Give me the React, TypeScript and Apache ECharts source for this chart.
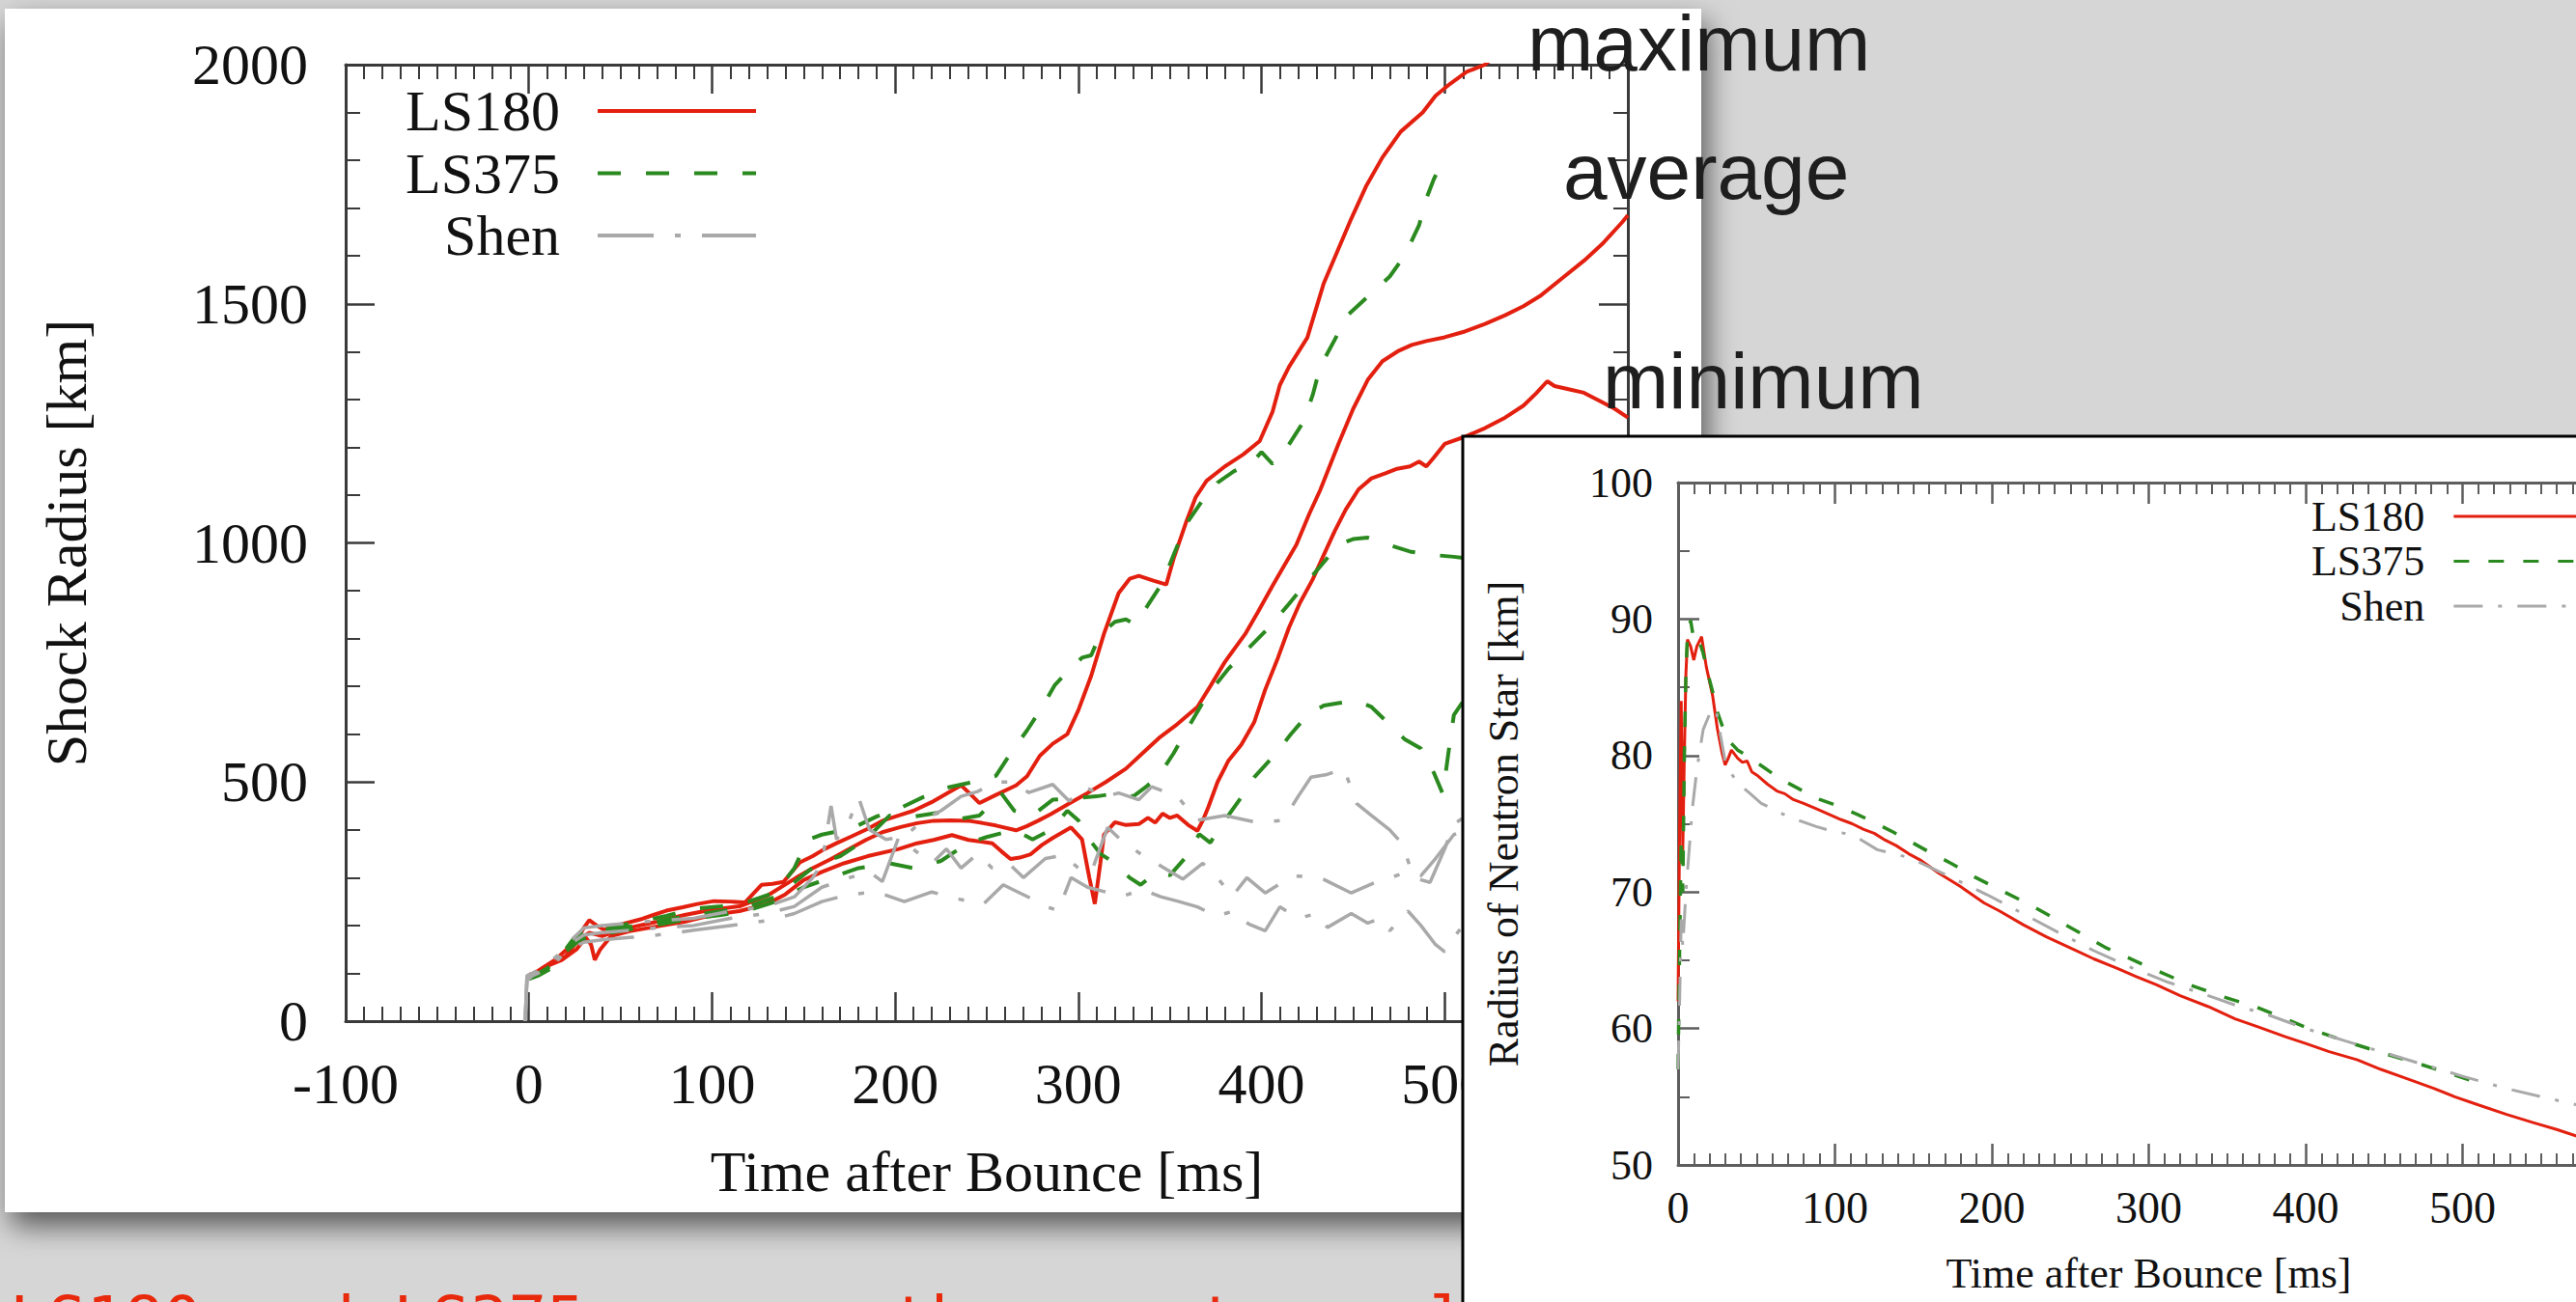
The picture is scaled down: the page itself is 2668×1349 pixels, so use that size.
import React, { useEffect, useRef } from 'react';
import * as echarts from 'echarts';

const W = 2668;
const H = 1349;
const SERIF = 'Liberation Serif';
const SANS = 'Liberation Sans';
const RED = '#e3200f';
const GREEN = '#2b8a1f';
const GRAY = '#a9a9a9';
const AX = '#3a3a3a';
const AX2 = '#5e5e5e';

const modelNames = ['LS180', 'LS375', 'Shen'];
const shockTicks = { xMin: -100, xMax: 600, xStep: 100, yMin: 0, yMax: 2000, yStep: 500 };
const pnsTicks = { xMin: 0, xMax: 600, xStep: 100, yMin: 50, yMax: 100, yStep: 10 };

// ---- Shock radius [km] vs time after bounce [ms] (left panel) ----
const ls180MaxShock = [[0,98],[3,96],[8,112],[13,123],[20,135],[25,160],[30,195],[33,211],[37,200],[41,191],[46,198],[52,204],[58,210],[62,214],[68,222],[75,231],[84,238],[92,245],[101,251],[110,250],[118,248],[127,285],[133,287],[139,291],[148,332],[155,345],[161,359],[168,372],[176,386],[185,402],[193,419],[202,430],[210,440],[221,460],[229,478],[236,493],[241,475],[246,456],[255,473],[266,493],[272,512],[279,555],[286,580],[294,600],[300,650],[307,722],[314,810],[322,895],[328,925],[333,931],[341,921],[348,913],[352,967],[359,1045],[364,1095],[370,1130],[380,1160],[390,1185],[399,1213],[406,1274],[410,1330],[415,1368],[425,1429],[434,1543],[442,1615],[449,1678],[457,1745],[466,1806],[476,1860],[488,1900],[495,1935],[503,1960],[512,1985],[522,2000],[540,2060]];
const ls180AvgShock = [[0,95],[5,105],[15,130],[25,165],[33,185],[40,178],[48,188],[58,198],[70,208],[85,222],[100,233],[115,240],[130,262],[146,300],[155,320],[165,339],[175,360],[184,379],[193,395],[203,406],[212,414],[221,419],[230,420],[240,419],[248,414],[255,409],[266,399],[272,408],[278,419],[285,433],[295,455],[305,477],[315,500],[326,528],[335,560],[344,592],[354,621],[365,657],[372,700],[380,751],[391,809],[398,855],[406,910],[412,950],[419,996],[426,1060],[432,1110],[442,1207],[450,1280],[458,1341],[466,1380],[475,1402],[482,1414],[490,1422],[500,1430],[511,1442],[522,1458],[533,1476],[543,1495],[552,1516],[563,1550],[576,1590],[586,1625],[597,1671],[600,1685]];
const ls180MinShock = [[0,90],[4,100],[10,115],[18,128],[26,150],[31,175],[34,160],[36,128],[39,150],[45,178],[55,188],[70,198],[85,208],[100,222],[115,230],[130,245],[140,265],[150,295],[160,312],[172,330],[185,345],[202,360],[212,372],[221,379],[231,389],[240,379],[253,372],[258,355],[263,339],[268,342],[274,349],[280,368],[286,383],[296,405],[302,380],[306,300],[309,245],[312,330],[314,390],[320,416],[326,410],[333,412],[338,425],[342,415],[346,434],[350,425],[354,430],[360,410],[365,398],[368,420],[371,448],[376,500],[382,545],[389,578],[396,625],[402,693],[409,760],[415,823],[421,875],[428,924],[434,975],[440,1025],[446,1070],[453,1112],[460,1135],[468,1146],[474,1155],[481,1160],[486,1170],[490,1160],[494,1178],[500,1207],[511,1222],[522,1240],[533,1262],[543,1287],[550,1313],[556,1338],[560,1328],[567,1322],[576,1314],[586,1294],[593,1280],[600,1262]];

const ls375MaxShock = [[0,92],[5,100],[10,110],[18,140],[25,175],[32,195],[40,190],[50,200],[60,208],[75,220],[90,235],[105,240],[120,250],[135,270],[145,320],[152,379],[160,390],[170,398],[178,406],[190,428],[203,446],[215,468],[227,487],[240,498],[255,513],[263,560],[272,608],[280,655],[287,702],[295,735],[302,760],[307,765],[312,809],[320,835],[326,840],[331,830],[338,870],[346,917],[352,975],[359,1040],[368,1090],[376,1126],[385,1150],[394,1165],[400,1190],[406,1165],[414,1200],[423,1254],[428,1310],[432,1368],[440,1425],[447,1476],[458,1515],[470,1557],[478,1600],[486,1664],[490,1720],[494,1760],[499,1800]];
const ls375AvgShock = [[0,90],[5,98],[12,115],[20,150],[28,175],[35,185],[45,192],[60,200],[75,212],[90,222],[105,230],[120,240],[135,260],[148,300],[158,330],[170,345],[184,380],[197,430],[209,427],[224,436],[234,422],[246,430],[258,476],[265,440],[275,430],[286,463],[298,466],[310,470],[322,477],[330,470],[337,490],[344,513],[352,560],[361,621],[370,680],[382,737],[393,780],[404,823],[414,868],[423,910],[433,955],[442,996],[450,1008],[458,1011],[470,995],[481,982],[493,975],[505,971],[512,968]];
const ls375MinShock = [[0,88],[5,95],[12,110],[20,145],[28,170],[35,178],[45,185],[60,195],[75,205],[90,215],[105,222],[120,232],[135,250],[150,280],[165,300],[180,320],[197,330],[210,320],[225,335],[240,373],[250,385],[265,400],[275,380],[285,400],[294,440],[300,420],[306,380],[312,350],[320,330],[328,300],[334,285],[342,310],[350,305],[358,340],[366,391],[372,373],[380,420],[388,463],[396,510],[408,560],[416,600],[425,640],[434,660],[442,665],[452,670],[460,657],[470,620],[478,590],[487,570],[494,520],[499,475],[502,560],[505,640],[512,680]];

const shenMaxShock = [[-2,0],[-1,95],[2,100],[8,115],[15,135],[22,165],[30,195],[40,200],[55,205],[70,210],[90,215],[110,230],[130,240],[145,260],[155,300],[160,330],[165,450],[168,380],[175,420],[180,468],[186,400],[195,380],[205,385],[215,420],[225,440],[236,470],[245,480],[255,500],[264,500],[273,478],[286,495],[295,460],[303,490],[315,470],[322,477],[333,463],[340,490],[354,470],[365,420],[380,430],[398,415],[412,420],[420,470],[427,510],[435,515],[445,528],[452,455],[460,430],[470,400],[477,370],[483,300],[492,290],[500,360],[505,412],[512,430]];
const shenAvgShock = [[-2,0],[-1,90],[2,98],[8,110],[15,130],[22,160],[30,180],[40,185],[55,190],[70,195],[90,200],[110,215],[130,225],[145,240],[160,280],[175,300],[186,312],[193,292],[202,385],[210,359],[220,330],[228,360],[236,320],[245,350],[253,320],[262,330],[270,300],[282,340],[292,347],[300,320],[307,311],[316,405],[324,376],[335,347],[347,320],[357,297],[368,330],[378,290],[384,261],[392,300],[402,268],[417,304],[432,300],[449,268],[462,290],[479,311],[487,304],[495,340],[505,390],[512,400]];
const shenMinShock = [[-2,0],[-1,85],[2,95],[8,105],[15,125],[22,150],[30,165],[40,170],[55,175],[70,180],[90,190],[110,200],[130,210],[145,225],[160,250],[175,265],[190,270],[205,250],[220,270],[235,255],[248,244],[259,285],[267,270],[275,255],[282,240],[289,231],[296,300],[305,280],[315,270],[324,261],[335,275],[345,260],[355,250],[365,239],[375,220],[385,230],[393,203],[402,189],[410,239],[420,215],[430,225],[436,196],[449,225],[458,205],[465,215],[470,189],[480,230],[487,200],[495,160],[500,145],[505,175],[512,210]];

// ---- Radius of neutron star [km] vs time after bounce [ms] (inset) ----
const ls180Pns = [[0,62],[1,75],[2,84],[3,73],[4,80],[5,86],[6,88.5],[8,88],[10,87],[12,88],[15,88.7],[18,86.5],[22,84.4],[25,82],[28,80.2],[30,79.3],[32,79.8],[34,80.4],[38,79.8],[41,79.5],[44,79.6],[47,78.8],[51,78.5],[57,77.9],[63,77.4],[68,77.2],[73,76.8],[80,76.5],[88,76.1],[96,75.7],[104,75.3],[111,75],[118,74.6],[125,74.3],[132,73.8],[139,73.4],[147,72.8],[155,72.3],[166,71.4],[180,70.4],[195,69.2],[205,68.6],[220,67.6],[235,66.7],[250,65.9],[265,65.1],[280,64.4],[292,63.8],[305,63.2],[320,62.4],[338,61.6],[355,60.7],[370,60.1],[387,59.4],[400,58.9],[415,58.3],[433,57.7],[448,57],[465,56.3],[482,55.6],[495,55],[510,54.4],[528,53.7],[545,53.1],[560,52.6],[573,52.1],[585,51.7],[600,51.2]];
const ls375Pns = [[0,57],[1,66],[2,74],[3,70],[4,80],[5,86],[6,89],[8,89.9],[10,88.5],[12,88],[14,88.2],[16,87.5],[19,86],[22,84.7],[25,83.2],[29,81.9],[33,81],[38,80.4],[45,79.9],[55,79.1],[65,78.3],[78,77.5],[90,76.8],[102,76.3],[114,75.7],[125,75.1],[137,74.4],[148,73.7],[159,73],[174,72.1],[189,71.1],[208,70],[227,68.9],[250,67.4],[273,65.9],[300,64.5],[326,63.2],[348,62.3],[368,61.6],[385,60.8],[402,60],[427,59],[452,58.1],[470,57.5],[486,56.9],[500,56.4],[510,56]];
const shenPns = [[0,57],[1,62],[2,68],[3,66],[5,70],[7,73],[9,76],[12,79],[16,81.9],[20,83],[24,83.5],[27,81.5],[30,79.6],[32,79],[38,78],[45,77.3],[53,76.5],[60,76.1],[67,75.7],[78,75.2],[88,74.8],[97,74.5],[106,74.3],[117,73.8],[127,73.1],[148,72.5],[170,71.3],[197,69.8],[220,68.4],[243,67],[265,65.7],[288,64.5],[312,63.4],[338,62.4],[358,61.6],[376,61],[400,60],[425,59.1],[448,58.3],[471,57.5],[500,56.5],[528,55.6],[550,55],[573,54.4],[600,53.7]];

const annotationLabels = ['maximum', 'average', 'minimum'];
const captionText = 'LS180 and LS375 are on the way to explosion';

function lineSeries(name: string, data: number[][], color: string, type: any, width: number, xi: number, yi: number, z: number) {
  return {
    type: 'line', name, data, xAxisIndex: xi, yAxisIndex: yi, z,
    symbol: 'none', showSymbol: false, clip: true, silent: true,
    lineStyle: { color, width, type },
    itemStyle: { color },
    emphasis: { disabled: true },
  };
}

const plainNumber = (v: number) => String(v);

function xAxisCfg(grid: number, t: any, pos: string, showLabels: boolean, z: number, s: any) {
  return {
    gridIndex: grid, type: 'value', min: t.xMin, max: t.xMax, interval: t.xStep, position: pos, z,
    axisLine: { show: true, onZero: false, lineStyle: { color: s.color, width: 3 } },
    axisTick: { show: true, inside: true, length: s.major, lineStyle: { color: s.color, width: 2.5 } },
    minorTick: { show: true, splitNumber: 10, length: s.minor, lineStyle: { color: s.color, width: 2 } },
    splitLine: { show: false },
    axisLabel: { show: showLabels, fontFamily: SERIF, fontSize: s.font, color: '#111', margin: s.margin, lineHeight: s.font, formatter: plainNumber, showMaxLabel: s.showMax },
    name: showLabels ? 'Time after Bounce [ms]' : '',
    nameLocation: 'middle', nameGap: s.nameGap,
    nameTextStyle: { fontFamily: SERIF, fontSize: s.nameFont, color: '#111', lineHeight: s.nameFont },
  };
}

function yAxisCfg(grid: number, t: any, pos: string, showLabels: boolean, z: number, s: any, name: string) {
  return {
    gridIndex: grid, type: 'value', min: t.yMin, max: t.yMax, interval: t.yStep, position: pos, z,
    axisLine: { show: true, onZero: false, lineStyle: { color: s.color, width: 3 } },
    axisTick: { show: true, inside: true, length: s.major, lineStyle: { color: s.color, width: 2.5 } },
    minorTick: { show: true, splitNumber: s.split, length: s.minor, lineStyle: { color: s.color, width: 2 } },
    splitLine: { show: false },
    axisLabel: { show: showLabels, fontFamily: SERIF, fontSize: s.font, color: '#111', margin: s.margin, formatter: plainNumber },
    name: showLabels ? name : '',
    nameLocation: 'middle', nameGap: s.nameGap, nameRotate: 90,
    nameTextStyle: { fontFamily: SERIF, fontSize: s.nameFont, color: '#111', lineHeight: s.nameFont },
  };
}

const DASH_L = [24, 26];
const DASHDOT_L = [58, 22, 6, 22];
const DASH_R = [16, 20];
const DASHDOT_R = [30, 16, 4, 16];

function legendItems(width: number, dash: any, dashDot: any) {
  const hidden = { opacity: 0 };
  return [
    { name: modelNames[0], lineStyle: { width, type: 'solid', color: RED }, itemStyle: hidden },
    { name: modelNames[1], lineStyle: { width, type: dash, color: GREEN }, itemStyle: hidden },
    { name: modelNames[2], lineStyle: { width, type: dashDot, color: GRAY }, itemStyle: hidden },
  ];
}

export default function App() {
  const ref = useRef<HTMLDivElement>(null);
  useEffect(() => {
    document.body.style.margin = '0';
    document.body.style.overflow = 'hidden';
    const chart = echarts.init(ref.current!, null, { renderer: 'svg', width: W, height: H });
    const leftX = { color: AX, major: 30, minor: 15, font: 60, margin: 35, nameGap: 126, nameFont: 60, showMax: true };
    const leftY = { color: AX, major: 30, minor: 15, font: 60, margin: 39, nameGap: 259, nameFont: 60, split: 5 };
    const rightX = { color: AX2, major: 22, minor: 12, font: 46, margin: 21, nameGap: 90, nameFont: 44, showMax: false };
    const rightY = { color: AX2, major: 22, minor: 12, font: 44, margin: 26, nameGap: 159, nameFont: 44, split: 2 };
    const option: any = {
      animation: false,
      backgroundColor: '#d6d6d6',
      grid: [
        { left: 358, top: 67, width: 1328, height: 991, outerBoundsMode: 'none', containLabel: false },
        { left: 1738, top: 500, width: 975, height: 707, outerBoundsMode: 'none', containLabel: false },
      ],
      xAxis: [
        xAxisCfg(0, shockTicks, 'bottom', true, 1, leftX),
        xAxisCfg(0, shockTicks, 'top', false, 1, leftX),
        xAxisCfg(1, pnsTicks, 'bottom', true, 11, rightX),
        xAxisCfg(1, pnsTicks, 'top', false, 11, rightX),
      ],
      yAxis: [
        yAxisCfg(0, shockTicks, 'left', true, 1, leftY, 'Shock Radius [km]'),
        yAxisCfg(0, shockTicks, 'right', false, 1, leftY, ''),
        yAxisCfg(1, pnsTicks, 'left', true, 11, rightY, 'Radius of Neutron Star [km]'),
      ],
      legend: [
        {
          orient: 'vertical', align: 'right', left: 420, top: 85, padding: 0, itemGap: 4.5,
          itemWidth: 164, itemHeight: 14, selectedMode: false, z: 3,
          textStyle: { fontFamily: SERIF, fontSize: 60, color: '#111', lineHeight: 58, padding: [0, 34, 0, 0] },
          data: legendItems(4, DASH_L, DASHDOT_L),
        },
        {
          orient: 'vertical', align: 'right', left: 2394, top: 513, padding: 0, itemGap: 2.5,
          itemWidth: 130, itemHeight: 10, selectedMode: false, z: 13,
          textStyle: { fontFamily: SERIF, fontSize: 44, color: '#111', lineHeight: 40, padding: [0, 25, 0, 0] },
          data: legendItems(3, DASH_R, DASHDOT_R),
        },
      ],
      graphic: {
        elements: [
          { type: 'rect', z: 0, silent: true, shape: { x: 5, y: 9, width: 1757, height: 1247 },
            style: { fill: '#ffffff', shadowBlur: 30, shadowOffsetX: 6, shadowOffsetY: 14, shadowColor: 'rgba(0,0,0,0.6)' } },
          { type: 'text', z: 9, silent: true, x: 1582, y: 44,
            style: { text: annotationLabels[0], fontFamily: SANS, fontSize: 82, fill: '#1e1e1e', verticalAlign: 'middle' } },
          { type: 'text', z: 9, silent: true, x: 1619, y: 177,
            style: { text: annotationLabels[1], fontFamily: SANS, fontSize: 82, fill: '#1e1e1e', verticalAlign: 'middle' } },
          { type: 'text', z: 9, silent: true, x: 1660, y: 394,
            style: { text: annotationLabels[2], fontFamily: SANS, fontSize: 82, fill: '#1e1e1e', verticalAlign: 'middle' } },
          { type: 'text', z: 5, silent: true, x: 10, y: 1367,
            style: { text: captionText, fontFamily: 'DejaVu Sans Mono', fontSize: 66, fill: '#e8290b', verticalAlign: 'middle' } },
          { type: 'rect', z: 10, silent: true, shape: { x: 1515, y: 452, width: 1300, height: 1000 },
            style: { fill: '#ffffff', stroke: '#000000', lineWidth: 3 } },
        ],
      },
      series: [
        lineSeries('LS180', ls180MaxShock, RED, 'solid', 4, 0, 0, 2),
        lineSeries('LS180', ls180AvgShock, RED, 'solid', 4, 0, 0, 2),
        lineSeries('LS180', ls180MinShock, RED, 'solid', 4, 0, 0, 2),
        lineSeries('LS375', ls375MaxShock, GREEN, DASH_L, 4, 0, 0, 2),
        lineSeries('LS375', ls375AvgShock, GREEN, DASH_L, 4, 0, 0, 2),
        lineSeries('LS375', ls375MinShock, GREEN, DASH_L, 4, 0, 0, 2),
        lineSeries('Shen', shenMaxShock, GRAY, DASHDOT_L, 3.5, 0, 0, 2),
        lineSeries('Shen', shenAvgShock, GRAY, DASHDOT_L, 3.5, 0, 0, 2),
        lineSeries('Shen', shenMinShock, GRAY, DASHDOT_L, 3.5, 0, 0, 2),
        lineSeries('LS180', ls180Pns, RED, 'solid', 3, 2, 2, 12),
        lineSeries('LS375', ls375Pns, GREEN, DASH_R, 3.5, 2, 2, 12),
        lineSeries('Shen', shenPns, GRAY, DASHDOT_R, 3, 2, 2, 12),
      ],
    };
    chart.setOption(option);
    return () => chart.dispose();
  }, []);
  return <div ref={ref} style={{ position: 'absolute', left: 0, top: 0, width: W, height: H }} />;
}
